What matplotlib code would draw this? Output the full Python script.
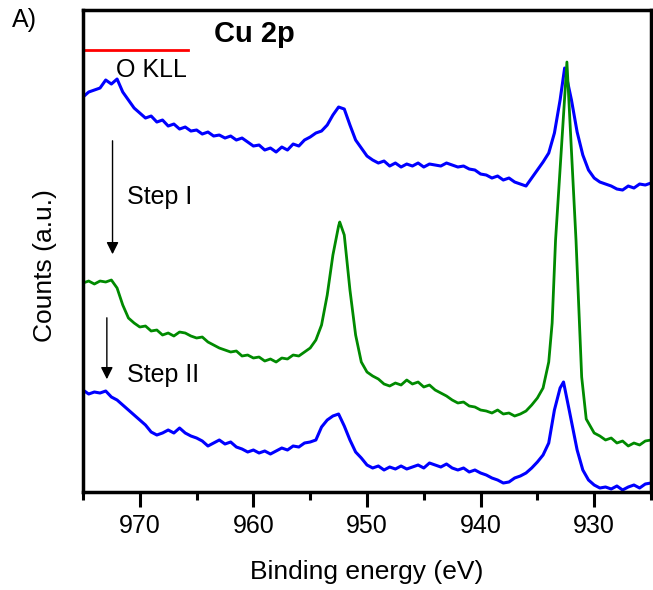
import matplotlib
matplotlib.use("Agg")
import matplotlib.pyplot as plt
import numpy as np

plt.rcParams['font.family'] = ['Liberation Sans', 'DejaVu Sans']

# binding energies (eV) and counts (a.u.)
e_top = [975, 974.5, 974, 973.5, 973, 972.5, 972, 971.5, 971, 970.5, 970, 969.5, 969, 968.5,
         968, 967.5, 967, 966.5, 966, 965.5, 965, 964.5, 964, 963.5, 963, 962.5, 962, 961.5,
         961, 960.5, 960, 959.5, 959, 958.5, 958, 957.5, 957, 956.5, 956, 955.5, 955, 954.5,
         954, 953.5, 953, 952.5, 952, 951.5, 951, 950.5, 950, 949.5, 949, 948.5, 948, 947.5,
         947, 946.5, 946, 945.5, 945, 944.5, 944, 943.5, 943, 942.5, 942, 941.5, 941, 940.5,
         940, 939.5, 939, 938.5, 938, 937.5, 937, 936.5, 936, 935.5, 935, 934.5, 934, 933.5,
         933, 932.6, 932, 931.5, 931, 930.5, 930, 929.5, 929, 928.5, 928, 927.5, 927, 926.5,
         926, 925.5, 925]
c_top = [395, 400, 402, 404, 412, 408, 413, 400, 392, 384, 379, 374, 376, 370,
         372, 366, 368, 363, 365, 361, 362, 358, 360, 356, 357, 354, 356, 352,
         354, 350, 346, 347, 342, 344, 340, 345, 342, 348, 346, 352, 355, 359,
         361, 367, 377, 385, 383, 367, 352, 344, 336, 332, 329, 331, 326, 329,
         325, 328, 326, 329, 325, 328, 327, 326, 329, 327, 325, 326, 323, 322,
         318, 317, 314, 316, 312, 314, 310, 308, 306, 314, 322, 330, 339, 359,
         392, 424, 392, 360, 337, 322, 314, 310, 308, 306, 303, 302, 306, 304,
         308, 307, 309]

e_mid = [975, 974.5, 974, 973.5, 973, 972.5, 972, 971.5, 971, 970.5, 970, 969.5, 969, 968.5,
         968, 967.5, 967, 966.5, 966, 965.5, 965, 964.5, 964, 963.5, 963, 962.5, 962, 961.5,
         961, 960.5, 960, 959.5, 959, 958.5, 958, 957.5, 957, 956.5, 956, 955.5, 955, 954.5,
         954, 953.5, 953, 952.5, 952.4, 952, 951.5, 951, 950.5, 950, 949.5, 949, 948.5, 948,
         947.5, 947, 946.5, 946, 945.5, 945, 944.5, 944, 943.5, 943, 942.5, 942, 941.5, 941,
         940.5, 940, 939.5, 939, 938.5, 938, 937.5, 937, 936.5, 936, 935.5, 935, 934.5, 934,
         933.7, 933.4, 932.4, 931.6, 931.1, 930.7, 930, 929.5, 929, 928.5, 928, 927.5, 927,
         926.5, 926, 925.5, 925]
c_mid = [209, 211, 208, 211, 210, 212, 204, 187, 174, 169, 165, 166, 161, 162,
         157, 159, 156, 160, 159, 156, 154, 155, 150, 147, 144, 142, 140, 141,
         136, 137, 134, 135, 131, 133, 130, 134, 133, 137, 136, 140, 144, 152,
         167, 197, 237, 266, 270, 257, 202, 157, 130, 120, 116, 113, 108, 106,
         109, 107, 112, 108, 110, 105, 107, 102, 99, 96, 92, 89, 90, 86,
         85, 82, 81, 79, 82, 78, 79, 76, 78, 81, 87, 94, 104, 130,
         169, 252, 430, 252, 115, 73, 59, 56, 52, 54, 49, 51, 46,
         49, 47, 51, 52]

e_bot = [975, 974.5, 974, 973.5, 973, 972.5, 972, 971.5, 971, 970.5, 970, 969.5, 969, 968.5,
         968, 967.5, 967, 966.5, 966, 965.5, 965, 964.5, 964, 963.5, 963, 962.5, 962, 961.5,
         961, 960.5, 960, 959.5, 959, 958.5, 958, 957.5, 957, 956.5, 956, 955.5, 955, 954.5,
         954, 953.5, 953, 952.5, 952, 951.5, 951, 950.5, 950, 949.5, 949, 948.5, 948, 947.5,
         947, 946.5, 946, 945.5, 945, 944.5, 944, 943.5, 943, 942.5, 942, 941.5, 941, 940.5,
         940, 939.5, 939, 938.5, 938, 937.5, 937, 936.5, 936, 935.5, 935, 934.5, 934, 933.5,
         933, 932.7, 932.2, 931.5, 931, 930.5, 930, 929.5, 929, 928.5, 928, 927.5, 927, 926.5,
         926, 925.5, 925]
c_bot = [102, 98, 100, 99, 101, 95, 92, 87, 82, 77, 72, 67, 60, 57,
         59, 62, 59, 64, 59, 56, 54, 51, 46, 49, 52, 48, 50, 45,
         43, 40, 42, 39, 41, 38, 41, 44, 42, 46, 45, 49, 50, 52,
         65, 72, 76, 78, 66, 52, 40, 34, 27, 24, 26, 22, 25, 23,
         26, 23, 25, 27, 24, 29, 27, 25, 28, 24, 22, 24, 20, 22,
         19, 17, 14, 12, 9, 10, 14, 16, 19, 24, 30, 37, 49, 82,
         104, 110, 82, 42, 22, 12, 7, 4, 5, 3, 6, 2, 5, 7,
         4, 8, 9]

xticks = [970, 960, 950, 940, 930]

fig = plt.figure(figsize=(6.53, 5.90), dpi=100)
ax = fig.add_axes([0.1271, 0.1661, 0.8698, 0.8169])

ax.plot(e_top, c_top, color='#0000ff', lw=2.2)
ax.plot(e_mid, c_mid, color='#008a00', lw=2.0)
ax.plot(e_bot, c_bot, color='#0000ff', lw=2.2)

# O KLL marker
ax.plot([975, 965.8], [442, 442], color='#ff0000', lw=2)
ax.text(972.1, 422, 'O KLL', fontsize=18, va='center', ha='left')
ax.text(963.5, 458, 'Cu 2p', fontsize=21, fontweight='bold', va='center', ha='left')

ax.annotate('', xy=(972.4, 235), xytext=(972.4, 354),
            arrowprops=dict(arrowstyle='-|>', color='k', lw=1, mutation_scale=18))
ax.annotate('', xy=(972.9, 110), xytext=(972.9, 177),
            arrowprops=dict(arrowstyle='-|>', color='k', lw=1, mutation_scale=18))
ax.text(971.1, 295, 'Step I', fontsize=18, va='center', ha='left')
ax.text(971.1, 117, 'Step II', fontsize=18, va='center', ha='left')

ax.set_xlim(975, 925)
ax.set_ylim(0, 482)
ax.set_xticks(xticks)
ax.set_xticks(np.arange(975, 924, -5), minor=True)
ax.set_yticks([])
ax.tick_params(axis='x', which='major', direction='out', length=11, width=2.2,
               labelsize=18, pad=5)
ax.tick_params(axis='x', which='minor', direction='out', length=6, width=2.2)
for s in ax.spines.values():
    s.set_linewidth(2.5)

ax.set_xlabel('Binding energy (eV)', fontsize=19, labelpad=16)
ax.set_ylabel('Counts (a.u.)', fontsize=19)
ax.yaxis.set_label_coords(-0.045, 0.47)

fig.text(0.018, 1 - 20 / 590, 'A)', fontsize=18, va='center', ha='left')

fig.savefig('out.png', dpi=100)
